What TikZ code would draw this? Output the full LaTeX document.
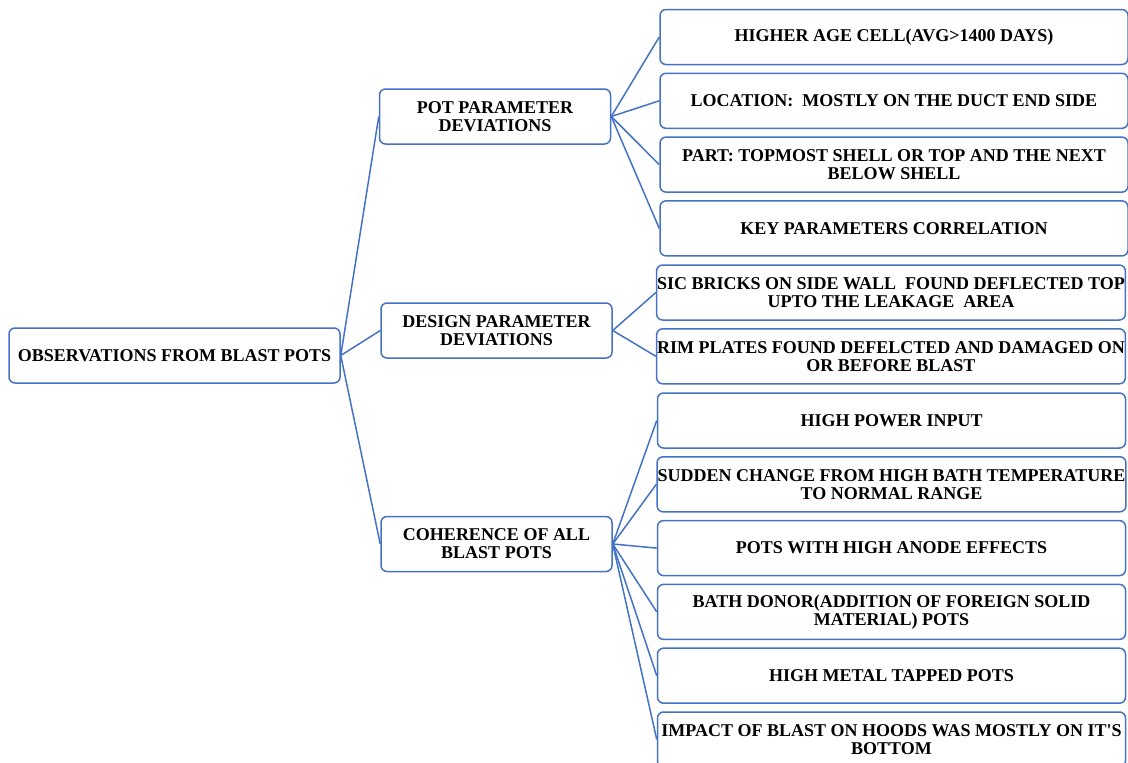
\documentclass[tikz,border=0pt]{standalone}
\usepackage{fontspec}
\setmainfont{Liberation Serif}
\usepackage{xcolor}
\usetikzlibrary{positioning}
\definecolor{mapblue}{RGB}{68,114,196}

\begin{document}
\begin{tikzpicture}[
    x=1pt, y=-1pt,
    every node/.style={draw=mapblue, line width=1.5pt, rectangle, rounded corners=6pt, align=center,
      minimum height=55pt, inner sep=0.5pt, font=\fontsize{18}{18}\selectfont\bfseries},
    rootbox/.style={minimum width=331pt},
    groupbox/.style={minimum width=231pt},
    leafbox/.style={minimum width=468pt},
    link/.style={draw=mapblue, line width=1.5pt},
    node distance=7.3pt
  ]
  \useasboundingbox (0,0) rectangle (1128,763);

  \node[rootbox] (root) at (174.5,355.5) {OBSERVATIONS FROM BLAST POTS};

  \node[groupbox] (pot) at (495,116.5) {POT PARAMETER\\DEVIATIONS};
  \node[groupbox] (design) at (496.5,330.5) {DESIGN PARAMETER\\DEVIATIONS};
  \node[groupbox] (coh) at (496.5,544) {COHERENCE OF ALL\\BLAST POTS};

  % pot parameter leaves
  \node[leafbox] (p1) at (894,37) {HIGHER AGE CELL(AVG>1400 DAYS)};
  \node[leafbox, below=of p1] (p2) {LOCATION:\ \ MOSTLY ON THE DUCT END SIDE};
  \node[leafbox, below=of p2] (p3) {PART: TOPMOST SHELL OR TOP AND THE NEXT\\BELOW SHELL};
  \node[leafbox, below=of p3] (p4) {KEY PARAMETERS CORRELATION};

  % design parameter leaves
  \node[leafbox] (d1) at (891,292.5) {SIC BRICKS ON SIDE WALL\ \ FOUND DEFLECTED TOP\\UPTO THE LEAKAGE\ \ AREA};
  \node[leafbox, below=of d1] (d2) {RIM PLATES FOUND DEFELCTED AND DAMAGED ON\\OR BEFORE BLAST};

  % coherence leaves
  \node[leafbox] (c1) at (891.5,420.5) {HIGH POWER INPUT};
  \node[leafbox, below=of c1] (c2) {SUDDEN CHANGE FROM HIGH BATH TEMPERATURE\\TO NORMAL RANGE};
  \node[leafbox, below=of c2] (c3) {POTS WITH HIGH ANODE EFFECTS};
  \node[leafbox, below=of c3] (c4) {BATH DONOR(ADDITION OF FOREIGN SOLID\\MATERIAL) POTS};
  \node[leafbox, below=of c4] (c5) {HIGH METAL TAPPED POTS};
  \node[leafbox, below=of c5] (c6) {IMPACT OF BLAST ON HOODS WAS MOSTLY ON IT\textquotesingle S\\BOTTOM};

  \foreach \grp in {pot,design,coh}
    \draw[link] (root.east) -- (\grp.west);
  \foreach \leaf in {p1,p2,p3,p4}
    \draw[link] (pot.east) -- (\leaf.west);
  \foreach \leaf in {d1,d2}
    \draw[link] (design.east) -- (\leaf.west);
  \foreach \leaf in {c1,c2,c3,c4,c5,c6}
    \draw[link] (coh.east) -- (\leaf.west);
\end{tikzpicture}
\end{document}
